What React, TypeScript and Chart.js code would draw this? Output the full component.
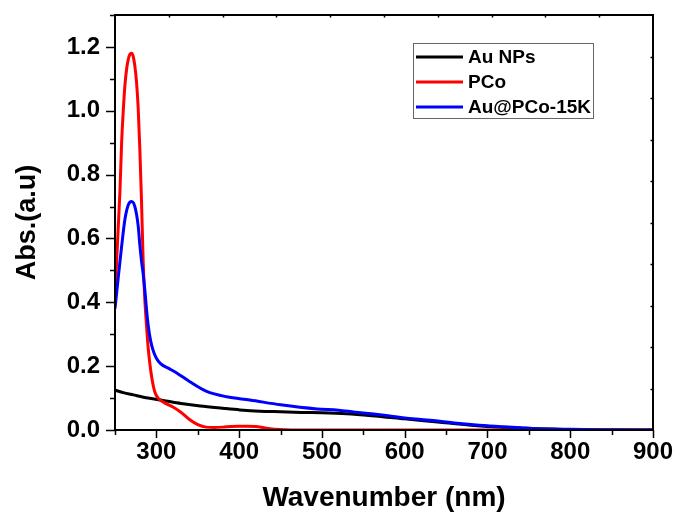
import React, { useEffect, useRef } from "react";
import { Chart, registerables } from "chart.js";
Chart.register(...registerables);

// ---- data ----
const seriesLabels = ["Au NPs", "PCo", "Au@PCo-15K"];
const seriesColors = ["#000000", "#ff0000", "#0000ff"];

const auNpsX = [250, 260, 272, 290, 305, 330, 353, 380, 401, 425, 450, 475, 500, 530, 560, 600, 640, 680, 720, 760, 800, 850, 900];
const auNpsY = [0.125, 0.117, 0.11, 0.1, 0.094, 0.083, 0.075, 0.068, 0.063, 0.059, 0.057, 0.055, 0.054, 0.051, 0.045, 0.035, 0.025, 0.015, 0.008, 0.004, 0.001, 0.0, 0.0];

const pcoX = [250, 252, 254, 256, 258, 260, 262, 264, 266, 268, 270, 272, 274, 276, 278, 280, 282, 284, 286, 288, 290, 292, 295, 298, 302, 310, 320, 330, 340, 350, 360, 370, 380, 390, 400, 410, 420, 430, 440, 455, 500, 600, 700, 800, 900];
const pcoY = [0.43, 0.53, 0.64, 0.75, 0.9, 1.0, 1.08, 1.13, 1.16, 1.177, 1.18, 1.17, 1.14, 1.09, 1.01, 0.88, 0.72, 0.53, 0.41, 0.33, 0.26, 0.21, 0.155, 0.12, 0.1, 0.085, 0.072, 0.055, 0.033, 0.017, 0.009, 0.008, 0.009, 0.011, 0.012, 0.012, 0.011, 0.007, 0.003, 0.001, 0.0, 0.0, 0.0, 0.0, 0.0];

const hybridX = [250, 254, 258, 262, 266, 270, 274, 278, 280, 282, 284, 286, 288, 290, 293, 296, 300, 305, 315, 325, 340, 360, 385, 413, 450, 494, 520, 540, 560, 580, 600, 620, 640, 660, 680, 700, 720, 740, 760, 780, 800, 840, 900];
const hybridY = [0.38, 0.48, 0.575, 0.66, 0.705, 0.716, 0.7, 0.64, 0.58, 0.53, 0.49, 0.44, 0.38, 0.33, 0.28, 0.25, 0.225, 0.208, 0.193, 0.178, 0.152, 0.122, 0.104, 0.094, 0.079, 0.066, 0.062, 0.056, 0.051, 0.045, 0.038, 0.033, 0.028, 0.022, 0.017, 0.013, 0.01, 0.007, 0.004, 0.003, 0.002, 0.001, 0.0];

const xTickLabels = [300, 400, 500, 600, 700, 800, 900];
const yTickLabels = [0.0, 0.2, 0.4, 0.6, 0.8, 1.0, 1.2];
const xMin = 250, xMax = 900, yMin = 0, yMax = 1.3;

const FONT = "'Liberation Sans', Arial, Helvetica, sans-serif";

function pts(xs: number[], ys: number[]) {
  return xs.map((x, i) => ({ x, y: ys[i] }));
}

const framePlugin = {
  id: "frameTicks",
  afterDraw(chart: any) {
    const { ctx, chartArea } = chart;
    const { left, right, top, bottom } = chartArea;
    const x = chart.scales.x, y = chart.scales.y;
    ctx.save();
    ctx.strokeStyle = "#000";
    ctx.lineWidth = 2;
    ctx.strokeRect(left, top, right - left, bottom - top);
    ctx.lineWidth = 1.5;
    ctx.beginPath();
    for (let v = xMin; v <= xMax + 0.01; v += 50) {
      const px = Math.round(x.getPixelForValue(v)) + 0.5;
      const len = v % 100 === 0 ? 8 : 5;
      ctx.moveTo(px, bottom);
      ctx.lineTo(px, bottom + len);
    }
    for (let i = 0; i <= 13; i++) {
      const v = i / 10;
      const py = Math.round(y.getPixelForValue(v)) + 0.5;
      const len = i % 2 === 0 ? 9 : 5;
      ctx.moveTo(left - len, py);
      ctx.lineTo(left, py);
    }
    for (let i = 1; i < 10; i++) {
      const px = Math.round(left + ((right - left) * i) / 10) + 0.5;
      ctx.moveTo(px, top);
      ctx.lineTo(px, top + 2.5);
      const py = Math.round(top + ((bottom - top) * i) / 10) + 0.5;
      ctx.moveTo(right, py);
      ctx.lineTo(right - 2.5, py);
    }
    ctx.stroke();

    // legend
    const bx = 413, by = 43, bw = 180, bh = 75;
    ctx.strokeStyle = "#666";
    ctx.lineWidth = 1;
    ctx.strokeRect(bx + 0.5, by + 0.5, bw, bh);
    ctx.font = `bold 19px ${FONT}`;
    ctx.textBaseline = "middle";
    ctx.textAlign = "left";
    chart.data.datasets.forEach((ds: any, i: number) => {
      const ry = by + 14 + i * 25;
      ctx.strokeStyle = ds.borderColor;
      ctx.lineWidth = 3;
      ctx.beginPath();
      ctx.moveTo(bx + 3, ry);
      ctx.lineTo(bx + 50, ry);
      ctx.stroke();
      ctx.fillStyle = "#000";
      ctx.fillText(ds.label, bx + 55, ry + 1);
    });
    ctx.restore();
  },
};

export default function App() {
  const ref = useRef<HTMLCanvasElement | null>(null);
  useEffect(() => {
    if (!ref.current) return;
    const data = [pts(auNpsX, auNpsY), pts(pcoX, pcoY), pts(hybridX, hybridY)];
    const chart = new Chart(ref.current, {
      type: "line",
      data: {
        datasets: data.map((d, i) => ({
          label: seriesLabels[i],
          data: d,
          borderColor: seriesColors[i],
          backgroundColor: seriesColors[i],
          borderWidth: 3,
          pointRadius: 0,
          fill: false,
          cubicInterpolationMode: "monotone" as const,
          order: 2 - i,
        })),
      },
      options: {
        animation: false,
        responsive: false,
        maintainAspectRatio: false,
        layout: { padding: { left: 0, top: 15, right: 23, bottom: 0 } },
        plugins: { legend: { display: false }, tooltip: { enabled: false } },
        scales: {
          x: {
            type: "linear",
            min: xMin,
            max: xMax,
            grid: { display: false, drawTicks: true, tickLength: 8 },
            border: { display: false },
            afterFit(scale: any) {
              scale.height = 89;
            },
            afterBuildTicks(scale: any) {
              scale.ticks = xTickLabels.map((v) => ({ value: v }));
            },
            ticks: {
              color: "#000",
              padding: 0,
              maxRotation: 0,
              autoSkip: false,
              font: { family: FONT, size: 24, weight: "bold" },
              callback: (v: any) => String(v),
            },
            title: {
              display: true,
              text: "Wavenumber (nm)",
              color: "#000",
              padding: { top: 0, bottom: 4 },
              font: { family: FONT, size: 28, weight: "bold" },
            },
          },
          y: {
            type: "linear",
            min: yMin,
            max: yMax,
            grid: { display: false, drawTicks: true, tickLength: 15 },
            border: { display: false },
            afterFit(scale: any) {
              scale.width = 115;
            },
            afterBuildTicks(scale: any) {
              scale.ticks = yTickLabels.map((v) => ({ value: v }));
            },
            ticks: {
              color: "#000",
              padding: 0,
              autoSkip: false,
              font: { family: FONT, size: 24, weight: "bold" },
              callback: (v: any) => Number(v).toFixed(1),
            },
            title: {
              display: true,
              text: "Abs.(a.u)",
              color: "#000",
              padding: { top: 11, bottom: 0 },
              font: { family: FONT, size: 27, weight: "bold" },
            },
          },
        },
      },
      plugins: [framePlugin],
    });
    return () => chart.destroy();
  }, []);
  return (
    <div style={{ position: "fixed", left: 0, top: 0, width: 676, height: 519, background: "#fff" }}>
      <canvas ref={ref} width={676} height={519} style={{ display: "block" }} />
    </div>
  );
}
